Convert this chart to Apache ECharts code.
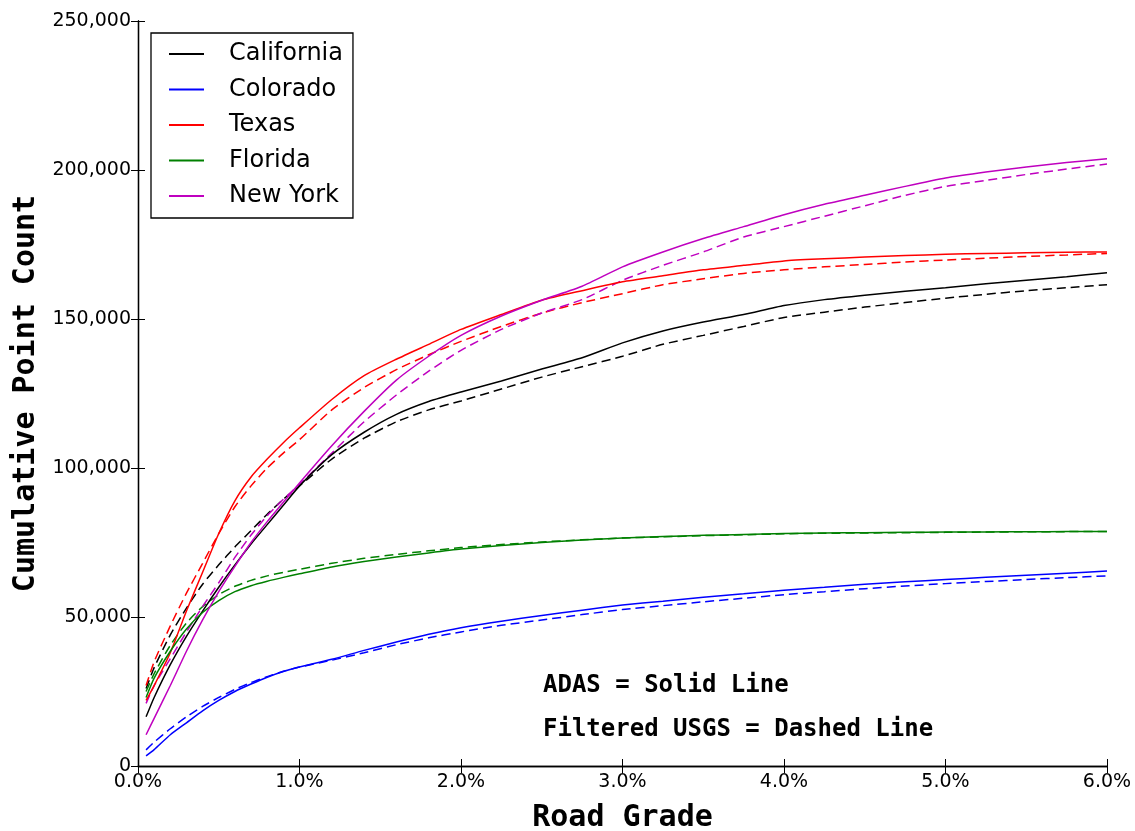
<!DOCTYPE html>
<html>
<head>
<meta charset="utf-8">
<script src="https://cdn.jsdelivr.net/npm/echarts@6/dist/echarts.min.js"></script>
<style>
html,body{margin:0;padding:0;background:#fff;}
#chart{width:1135px;height:831px;}
</style>
</head>
<body>
<div id="chart"></div>
<script>
// Road grade (%) sample positions
const grades = [0.05,0.1,0.2,0.3,0.4,0.5,0.6,0.7,0.8,0.9,1.0,1.2,1.4,1.6,1.8,2.0,2.25,2.5,2.75,3.0,3.25,3.5,3.75,4.0,4.25,4.5,4.75,5.0,5.25,5.5,5.75,6.0];

// Cumulative point counts in thousands — ADAS (solid)
const californiaAdas = [16.5,23,34,43.5,52,60,67.5,74.5,81,87.5,94,104.5,112,118,122.3,125.5,129.2,133.2,137,142,146,149,151.5,154.5,156.5,158,159.3,160.5,161.8,163,164.2,165.5];
const coloradoAdas   = [3.4,5.5,10.5,14.5,18.5,22,25,27.5,29.8,31.7,33.2,35.8,38.8,41.6,44.2,46.4,48.6,50.5,52.3,54,55.3,56.6,57.8,59,60,61,61.8,62.6,63.3,64,64.7,65.4];
const texasAdas      = [22,27,38,52,65,78,89,97,103,108.5,113.5,123,131,136.5,141.5,146.5,151.5,156.3,159.5,162.5,164.5,166.5,168,169.5,170.2,170.8,171.3,171.7,172,172.2,172.4,172.5];
const floridaAdas    = [23,29.5,38.5,46,51.5,55.5,58.5,60.5,62,63.3,64.5,66.8,68.6,70.1,71.5,72.8,74,75,75.8,76.5,77,77.4,77.7,78,78.2,78.3,78.4,78.5,78.55,78.6,78.65,78.7];
const newYorkAdas    = [10.5,16,27,38.5,49,58.5,67,75,82,88.5,95,107.5,119,129.5,137.5,144.5,151,156.3,161,167.5,172.5,177,181,185,188.5,191.5,194.5,197.3,199.3,201,202.5,203.8];

// Filtered USGS (dashed)
const californiaUsgs = [26,33,44,53,61,67.5,73.5,79,84.5,89.5,94,103,110,115.5,119.5,122.5,126.5,130.5,134,137.5,141.5,144.5,147.5,150.5,152.3,154,155.5,157,158.3,159.5,160.5,161.5];
const coloradoUsgs   = [5.4,8,12.5,16.5,20,23,25.7,28,30,31.8,33.2,35.5,38,40.7,43,45,47.2,49,50.8,52.5,53.8,55.1,56.3,57.5,58.5,59.5,60.4,61.2,61.9,62.6,63.2,63.8];
const texasUsgs      = [27,35,47,58,68,78,87,94,100,105,109.5,119.5,127,133,138,142.5,147.5,152,155.5,158.5,161.5,163.5,165.3,166.5,167.5,168.3,169.1,169.8,170.4,171,171.5,172];
const floridaUsgs    = [25,31,40.5,48,53.5,57.5,60.3,62.3,63.8,65,66,68,69.7,71,72.2,73.3,74.3,75.2,75.9,76.5,76.9,77.3,77.6,77.9,78.1,78.2,78.3,78.4,78.5,78.6,78.65,78.7];
const newYorkUsgs    = [21,27,36,45,53.5,61.5,70,77.5,84,89.5,94.5,105,115.5,124.5,132.5,139.5,146.5,152,156.5,163,168,172.5,177.5,181,184.5,188,191.5,194.5,196.5,198.5,200.3,202];

const stateNames  = ['California','Colorado','Texas','Florida','New York'];
const stateColors = ['#000000','#0000ff','#ff0000','#008000','#bf00bf'];
const adasSets = [californiaAdas, coloradoAdas, texasAdas, floridaAdas, newYorkAdas];
const usgsSets = [californiaUsgs, coloradoUsgs, texasUsgs, floridaUsgs, newYorkUsgs];

function pairs(vals){ return grades.map((g,i)=>[g, vals[i]*1000]); }

const series = [];
stateNames.forEach((name,i)=>{
  series.push({
    name: name, type:'line', data: pairs(adasSets[i]), symbol:'none', smooth:0.2,
    lineStyle:{color:stateColors[i], width:1.5, type:'solid'}, itemStyle:{color:stateColors[i]}, z:3
  });
});
stateNames.forEach((name,i)=>{
  series.push({
    name: name + ' (Filtered USGS)', type:'line', data: pairs(usgsSets[i]), symbol:'none', smooth:0.2,
    lineStyle:{color:stateColors[i], width:1.5, type:[9,5]}, itemStyle:{color:stateColors[i]}, z:2
  });
});

const tickFont = {fontFamily:'DejaVu Sans', fontSize:19, color:'#000'};
const axisLine = {show:true, lineStyle:{color:'#000', width:1.3}};
const tickIn = {show:true, inside:true, length:7, lineStyle:{color:'#000', width:1}};

const chart = echarts.init(document.getElementById('chart'), null, {renderer:'canvas'});
chart.setOption({
  backgroundColor:'#fff',
  animation:false,
  grid:{left:138, right:28, top:21, bottom:65, containLabel:false, outerBoundsMode:'none'},
  xAxis:[{
    type:'value', min:0, max:6, interval:1, position:'bottom',
    axisLine:axisLine, axisTick:tickIn, splitLine:{show:false},
    axisLabel:Object.assign({margin:7, formatter:v=>v.toFixed(1)+'%'}, tickFont),
    name:'Road Grade', nameLocation:'middle', nameGap:37,
    nameTextStyle:{fontFamily:'DejaVu Sans Mono', fontWeight:'bold', fontSize:30, color:'#000', verticalAlign:'top'}
  },{
    type:'value', min:0, max:6, interval:1, position:'top',
    axisLine:axisLine, axisTick:tickIn, axisLabel:{show:false}, splitLine:{show:false}
  }],
  yAxis:[{
    type:'value', min:0, max:250000, interval:50000, position:'left',
    axisLine:axisLine, axisTick:tickIn, splitLine:{show:false},
    axisLabel:Object.assign({margin:7, formatter:v=>v.toLocaleString('en-US')}, tickFont),
    name:'Cumulative Point Count', nameLocation:'middle', nameGap:97,
    nameTextStyle:{fontFamily:'DejaVu Sans Mono', fontWeight:'bold', fontSize:30, color:'#000'}
  },{
    type:'value', min:0, max:250000, interval:50000, position:'right',
    axisLine:axisLine, axisTick:tickIn, axisLabel:{show:false}, splitLine:{show:false}
  }],
  legend:{
    data: stateNames,
    orient:'vertical', left:151, top:33,
    backgroundColor:'#fff', borderColor:'#000', borderWidth:1.3, borderRadius:0,
    padding:[9,10,10,17],
    itemWidth:35, itemHeight:22, itemGap:11.5,
    itemStyle:{opacity:0},
    textStyle:{fontFamily:'DejaVu Sans', fontSize:24, color:'#000', padding:[0,0,0,20]},
    selectedMode:false
  },
  graphic:[
    {type:'text', left:543, top:674, style:{text:'ADAS = Solid Line', font:'bold 24px "DejaVu Sans Mono"', fill:'#000'}},
    {type:'text', left:543, top:718, style:{text:'Filtered USGS = Dashed Line', font:'bold 24px "DejaVu Sans Mono"', fill:'#000'}}
  ],
  series: series
});
</script>
</body>
</html>
